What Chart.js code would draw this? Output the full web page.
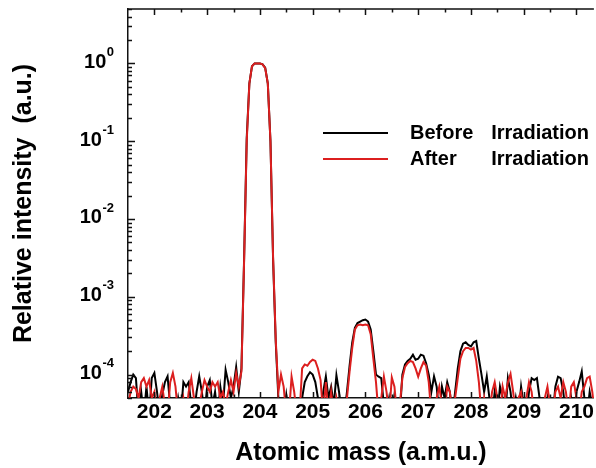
<!DOCTYPE html>
<html>
<head>
<meta charset="utf-8">
<script src="https://cdn.jsdelivr.net/npm/chart.js@4.4.0/dist/chart.umd.min.js"></script>
<style>
  html, body { margin: 0; padding: 0; background: #fff; }
  canvas { display: block; }
</style>
</head>
<body>
<canvas id="myChart" width="596" height="468"></canvas>
<script>
// mass sampling of the spectra (amu)
const massStart = 201.5;
const massStep = 0.05;
const massTicks = [202, 203, 204, 205, 206, 207, 208, 209, 210];
const decadeTicks = [0, -1, -2, -3, -4];
const seriesLabels = ['Before Irradiation', 'After    Irradiation'];

// relative intensity (values under 5e-5 sit below the axis)
const beforeIrradiation = [
  6e-5, 8e-5, 1e-4, 9e-5, 3e-5, 6e-5, 3e-5, 7e-5, 3e-5, 9e-5,
  1.05e-4, 6e-5, 3e-5, 5.5e-5, 8e-5, 9.5e-5, 4e-5, 3e-5, 3e-5, 5e-5,
  3e-5, 8e-5, 7e-5, 8e-5, 4e-5, 3e-5, 6e-5, 9.5e-5, 6e-5, 3e-5,
  7e-5, 8.5e-5, 4e-5, 6e-5, 3e-5, 7e-5, 4e-5, 1.15e-4, 8e-5, 5e-5,
  7e-5, 1.25e-4, 6e-5, 1.2e-4, 3e-3, 0.11, 0.55, 0.92, 1.0, 1.0,
  1.0, 0.97, 0.88, 0.55, 0.1, 3e-3, 2.6e-4, 5e-5, 3e-5, 3e-5,
  5.5e-5, 3e-5, 3e-5, 4e-5, 3e-5, 3e-5, 5e-5, 8e-5, 9.5e-5, 1.07e-4,
  1e-4, 8e-5, 5e-5, 3e-5, 6e-5, 9.5e-5, 5e-5, 7e-5, 4e-5, 9.8e-5,
  6e-5, 3e-5, 3e-5, 6e-5, 1.3e-4, 2.6e-4, 4e-4, 4.6e-4, 4.8e-4, 5e-4,
  5.1e-4, 4.8e-4, 3.8e-4, 2e-4, 1e-4, 9.4e-5, 9e-5, 4e-5, 3e-5, 5e-5,
  3e-5, 5.5e-5, 3e-5, 3e-5, 1e-4, 1.35e-4, 1.5e-4, 1.6e-4, 1.8e-4, 1.55e-4,
  1.6e-4, 1.8e-4, 1.75e-4, 1.4e-4, 1e-4, 6e-5, 9.5e-5, 7e-5, 3e-5, 7e-5,
  5e-5, 8e-5, 6e-5, 3e-5, 6e-5, 1.2e-4, 2e-4, 2.5e-4, 2.6e-4, 2.4e-4,
  2.3e-4, 2.6e-4, 2.7e-4, 1.6e-4, 1e-4, 6e-5, 9.5e-5, 5e-5, 3e-5, 6e-5,
  3e-5, 7e-5, 5e-5, 3e-5, 9e-5, 6e-5, 3e-5, 5e-5, 3e-5, 7e-5,
  4e-5, 3e-5, 6e-5, 9e-5, 8.5e-5, 9e-5, 5e-5, 3e-5, 3e-5, 5e-5,
  3e-5, 3e-5, 7e-5, 9.4e-5, 9e-5, 6e-5, 3e-5, 3e-5, 5e-5, 3e-5,
  6e-5, 8e-5, 1.1e-4, 5e-5, 3e-5, 6e-5, 4e-5, 3e-5
];
const afterIrradiation = [
  4e-5, 6e-5, 7e-5, 6.5e-5, 5e-5, 8e-5, 9e-5, 7e-5, 8.5e-5, 5e-5,
  6e-5, 3e-5, 5e-5, 7e-5, 4e-5, 3e-5, 8e-5, 1.05e-4, 7e-5, 3e-5,
  3e-5, 5e-5, 3e-5, 6e-5, 9e-5, 5e-5, 3e-5, 4e-5, 6e-5, 8.5e-5,
  7e-5, 6e-5, 8e-5, 7e-5, 8e-5, 5e-5, 6e-5, 4e-5, 6e-5, 8.5e-5,
  6e-5, 1.05e-4, 7e-5, 1.1e-4, 2.8e-3, 0.1, 0.55, 0.92, 1.0, 1.0,
  1.0, 0.97, 0.87, 0.55, 0.1, 3.2e-3, 2.8e-4, 6e-5, 1e-4, 7e-5,
  3e-5, 3e-5, 9.4e-5, 6e-5, 3e-5, 3e-5, 1.2e-4, 1.35e-4, 1.3e-4, 1.45e-4,
  1.55e-4, 1.5e-4, 1.2e-4, 8.5e-5, 3e-5, 8e-5, 3e-5, 6e-5, 3e-5, 5e-5,
  3e-5, 4e-5, 3e-5, 5e-5, 1.1e-4, 2.2e-4, 3.8e-4, 4.3e-4, 4.4e-4, 4.3e-4,
  4.4e-4, 4.3e-4, 3.3e-4, 1.6e-4, 8e-5, 3e-5, 5e-5, 9.4e-5, 6e-5, 3e-5,
  9.2e-5, 7e-5, 3e-5, 4e-5, 9e-5, 1.25e-4, 1.4e-4, 1.5e-4, 1.45e-4, 1.2e-4,
  9.4e-5, 1.2e-4, 1.45e-4, 1.3e-4, 8e-5, 3e-5, 3e-5, 5e-5, 7e-5, 4e-5,
  3e-5, 7e-5, 6e-5, 3e-5, 5e-5, 9e-5, 1.6e-4, 2e-4, 2.2e-4, 2.2e-4,
  2.1e-4, 2.2e-4, 1.5e-4, 8e-5, 3e-5, 5e-5, 3e-5, 3e-5, 6e-5, 8e-5,
  5e-5, 3e-5, 7e-5, 5e-5, 8e-5, 1.02e-4, 6e-5, 3e-5, 5e-5, 6e-5,
  3e-5, 5e-5, 8e-5, 6e-5, 3e-5, 4e-5, 3e-5, 3e-5, 5e-5, 7e-5,
  4e-5, 3e-5, 6e-5, 7e-5, 5e-5, 8e-5, 6e-5, 3e-5, 7e-5, 8e-5,
  5e-5, 3e-5, 6e-5, 7e-5, 9e-5, 9.4e-5, 6e-5, 3e-5
];

const FONT = '"Liberation Sans", Arial, sans-serif';

function toPoints(values) {
  return values.map((v, i) => ({ x: massStart + i * massStep, y: v }));
}

// inward tick marks on left / bottom / top, plus top frame line
const frameTicks = {
  id: 'frameTicks',
  afterDraw(chart) {
    const ctx = chart.ctx, xs = chart.scales.x, ys = chart.scales.y;
    const a = chart.chartArea;
    ctx.save();
    ctx.strokeStyle = '#111';
    ctx.lineWidth = 1.5;
    ctx.beginPath();
    ctx.moveTo(a.left, a.top);
    ctx.lineTo(a.right, a.top);
    // x ticks every 0.5
    for (let m = 202; m <= 210.5; m += 0.5) {
      const px = Math.round(xs.getPixelForValue(m)) + 0.5;
      if (px > a.right) break;
      const len = Number.isInteger(m) ? 6 : 3.5;
      ctx.moveTo(px, a.bottom); ctx.lineTo(px, a.bottom - len);
      ctx.moveTo(px, a.top); ctx.lineTo(px, a.top + len);
    }
    // y ticks: decades and 2..9
    for (let e = -5; e <= 0; e++) {
      for (let k = 1; k <= 9; k++) {
        const v = k * Math.pow(10, e);
        if (v < ys.min * 0.999 || v > ys.max * 1.001) continue;
        const py = Math.round(ys.getPixelForValue(v)) + 0.5;
        const len = k === 1 ? 7 : 4;
        ctx.moveTo(a.left, py); ctx.lineTo(a.left + len, py);
      }
    }
    ctx.stroke();

    // decade labels 10^n
    ctx.fillStyle = '#000';
    ctx.textBaseline = 'middle';
    const right = a.left - 14;
    decadeTicks.forEach(e => {
      const py = ys.getPixelForValue(Math.pow(10, e));
      ctx.font = 'bold 13px ' + FONT;
      const exp = String(e);
      const ew = ctx.measureText(exp).width;
      ctx.textAlign = 'left';
      ctx.fillText(exp, right - ew, py - 11);
      ctx.font = 'bold 20px ' + FONT;
      ctx.textAlign = 'right';
      ctx.fillText('10', right - ew - 0.5, py - 1);
    });
    ctx.restore();
  }
};

// legend drawn inside the plot
const innerLegend = {
  id: 'innerLegend',
  afterDraw(chart) {
    const ctx = chart.ctx;
    ctx.save();
    ctx.font = 'bold 20px ' + FONT;
    ctx.textBaseline = 'middle';
    ctx.fillStyle = '#000';
    chart.data.datasets.forEach((ds, k) => {
      const y = 133 + k * 26;
      ctx.strokeStyle = ds.borderColor;
      ctx.lineWidth = 2;
      ctx.beginPath();
      ctx.moveTo(323, y); ctx.lineTo(388, y);
      ctx.stroke();
      const words = ds.label.split(/\s+/);
      ctx.textAlign = 'left';
      ctx.fillText(words[0], 410, y);
      ctx.textAlign = 'right';
      ctx.fillText(words.slice(1).join(' '), 589, y);
    });
    ctx.restore();
  }
};

new Chart(document.getElementById('myChart'), {
  type: 'line',
  data: {
    datasets: [{
      label: seriesLabels[0],
      data: toPoints(beforeIrradiation),
      borderColor: '#000000',
      borderWidth: 2,
      pointRadius: 0,
      tension: 0,
      order: 2
    }, {
      label: seriesLabels[1],
      data: toPoints(afterIrradiation),
      borderColor: '#dc1f1f',
      borderWidth: 2,
      pointRadius: 0,
      tension: 0,
      order: 1
    }]
  },
  options: {
    responsive: false,
    animation: false,
    layout: { padding: { top: 9, right: 0, left: 0, bottom: 0 } },
    plugins: {
      legend: { display: false },
      tooltip: { enabled: false }
    },
    scales: {
      x: {
        type: 'linear',
        min: massStart,
        max: 210.33,
        afterFit: s => { s.height = 70; },
        afterBuildTicks: s => { s.ticks = massTicks.map(v => ({ value: v })); },
        grid: { display: false, drawTicks: false },
        border: { display: true, color: '#111', width: 1.5 },
        ticks: {
          padding: 2,
          color: '#000',
          font: { family: FONT, size: 21, weight: 'bold' },
          maxRotation: 0,
          autoSkip: false,
          callback: v => String(v)
        },
        title: {
          display: true,
          text: 'Atomic mass (a.m.u.)',
          color: '#000',
          font: { family: FONT, size: 25, weight: 'bold' },
          padding: { top: 0, bottom: 0 }
        }
      },
      y: {
        type: 'logarithmic',
        min: 5e-5,
        max: 5,
        afterFit: s => { s.width = 128; },
        grid: { display: false, drawTicks: false },
        border: { display: true, color: '#111', width: 1.5 },
        ticks: { display: false },
        title: {
          display: true,
          text: 'Relative intensity  (a.u.)',
          color: '#000',
          font: { family: FONT, size: 25, weight: 'bold' },
          padding: { top: 9, bottom: 0 }
        }
      }
    }
  },
  plugins: [frameTicks, innerLegend]
});
</script>
</body>
</html>
